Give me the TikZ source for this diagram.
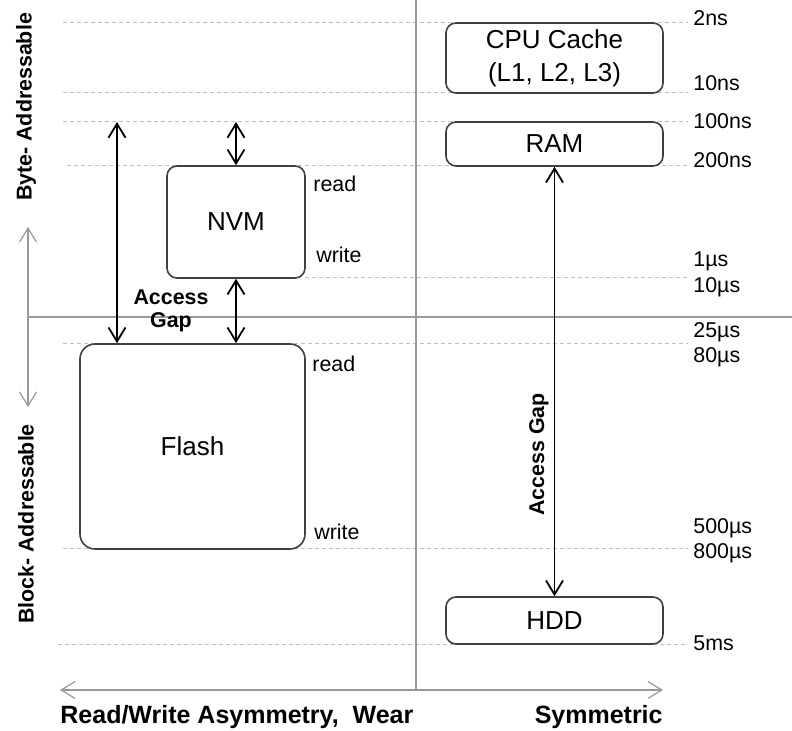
\documentclass[tikz,border=0pt]{standalone}
\usepackage{fontspec}
\setmainfont{Liberation Sans}
\usetikzlibrary{arrows.meta,positioning}

\tikzset{
  mem/.style={draw=black!75, line width=0.8pt, fill=white, inner sep=0pt, align=center,
    font=\fontsize{13}{16.5}\selectfont},
  guide/.style={draw=black!25, dash pattern=on 2pt off 1.5pt, line width=0.5pt},
  axis/.style={draw=black!40, line width=0.6pt},
  tips/.style={{Straight Barb[length=7pt,width=8.5pt]}-{Straight Barb[length=7pt,width=8.5pt]}},
  gap/.style={tips, line width=0.9pt},
  lbl/.style={font=\fontsize{10.7}{12}\selectfont, inner sep=0pt},
  blbl/.style={font=\fontsize{10.7}{11.5}\selectfont\bfseries, inner sep=0pt, align=center},
  axlbl/.style={font=\fontsize{12.5}{14}\selectfont\bfseries, inner sep=0pt},
}

\begin{document}
\begin{tikzpicture}[x=0.5pt,y=-0.5pt]
  \useasboundingbox (0,0) rectangle (792,731);

  \foreach \y/\xa in {23/63,93/63,122/63,166/67,278/305,344/63,549/63,644/58}
    \draw[guide] (\xa,\y) -- (688,\y);

  \coordinate (septop) at (416,0);
  \coordinate (sepbot) at (416,690);
  \coordinate (midleft) at (28,317);
  \coordinate (midright) at (792,317);
  \coordinate (bytetop) at (28,227);
  \coordinate (blockbot) at (28,407);
  \coordinate (asym) at (60,690);
  \coordinate (sym) at (663,690);
  \draw[axis] (septop) -- (sepbot);
  \draw[axis] (midleft) -- (midright);
  \draw[axis, tips] (bytetop) -- (blockbot);
  \draw[axis, tips] (asym) -- (sym);

  \node[mem, rounded corners=5pt, minimum width=108.5pt, minimum height=35pt] (cache) at (554.5,58) {CPU Cache\\(L1, L2, L3)};
  \node[mem, rounded corners=5pt, minimum width=108.5pt, minimum height=22pt] (ram) at (554.5,144) {RAM};
  \node[mem, rounded corners=5pt, minimum width=69pt, minimum height=56pt] (nvm) at (236,222) {NVM};
  \node[mem, rounded corners=7.5pt, minimum width=112.5pt, minimum height=102.5pt] (flash) at (192.5,446.5) {Flash};
  \node[mem, rounded corners=5pt, minimum width=108.5pt, minimum height=23.5pt] (hdd) at (554.5,620.5) {HDD};

  \coordinate (nvmtop) at (236,122);
  \coordinate (flashtop) at (117,122);
  \draw[gap] (nvmtop) -- (nvm.north);
  \draw[gap] (nvm.south) -- (nvm.south |- flash.north);
  \draw[gap] (flashtop) -- (flashtop |- flash.north);
  \draw[gap] (ram.south) -- node[blbl, rotate=90, anchor=south, inner sep=2.5pt, pos=0.67] (gapvert) {Access Gap} (hdd.north);

  \node[blbl] (gaplbl) at (171,311) {Access\\Gap};

  \node[lbl, anchor=base west] (nvmread) at (313,192) {read};
  \node[lbl, anchor=base west] (nvmwrite) at (316,263) {write};
  \node[lbl, anchor=base west] (flashread) at (312,372) {read};
  \node[lbl, anchor=base west] (flashwrite) at (314,539) {write};

  \foreach \t/\y [count=\i] in {2ns/26,10ns/91,100ns/129,200ns/168,1µs/267,10µs/293,25µs/338,80µs/363,500µs/533,800µs/559,5ms/650}
    \node[lbl, anchor=base west] (lat\i) at (693,\y) {\t};

  \node[blbl, rotate=90] (byte) at (26,107) {Byte- Addressable};
  \node[blbl, rotate=90] (block) at (26,524) {Block- Addressable};

  \node[axlbl, anchor=base west] (rwlbl) at (60,723) {Read/Write Asymmetry, \ Wear};
  \node[axlbl, anchor=base east] (symlbl) at (663,723) {Symmetric};
\end{tikzpicture}
\end{document}
